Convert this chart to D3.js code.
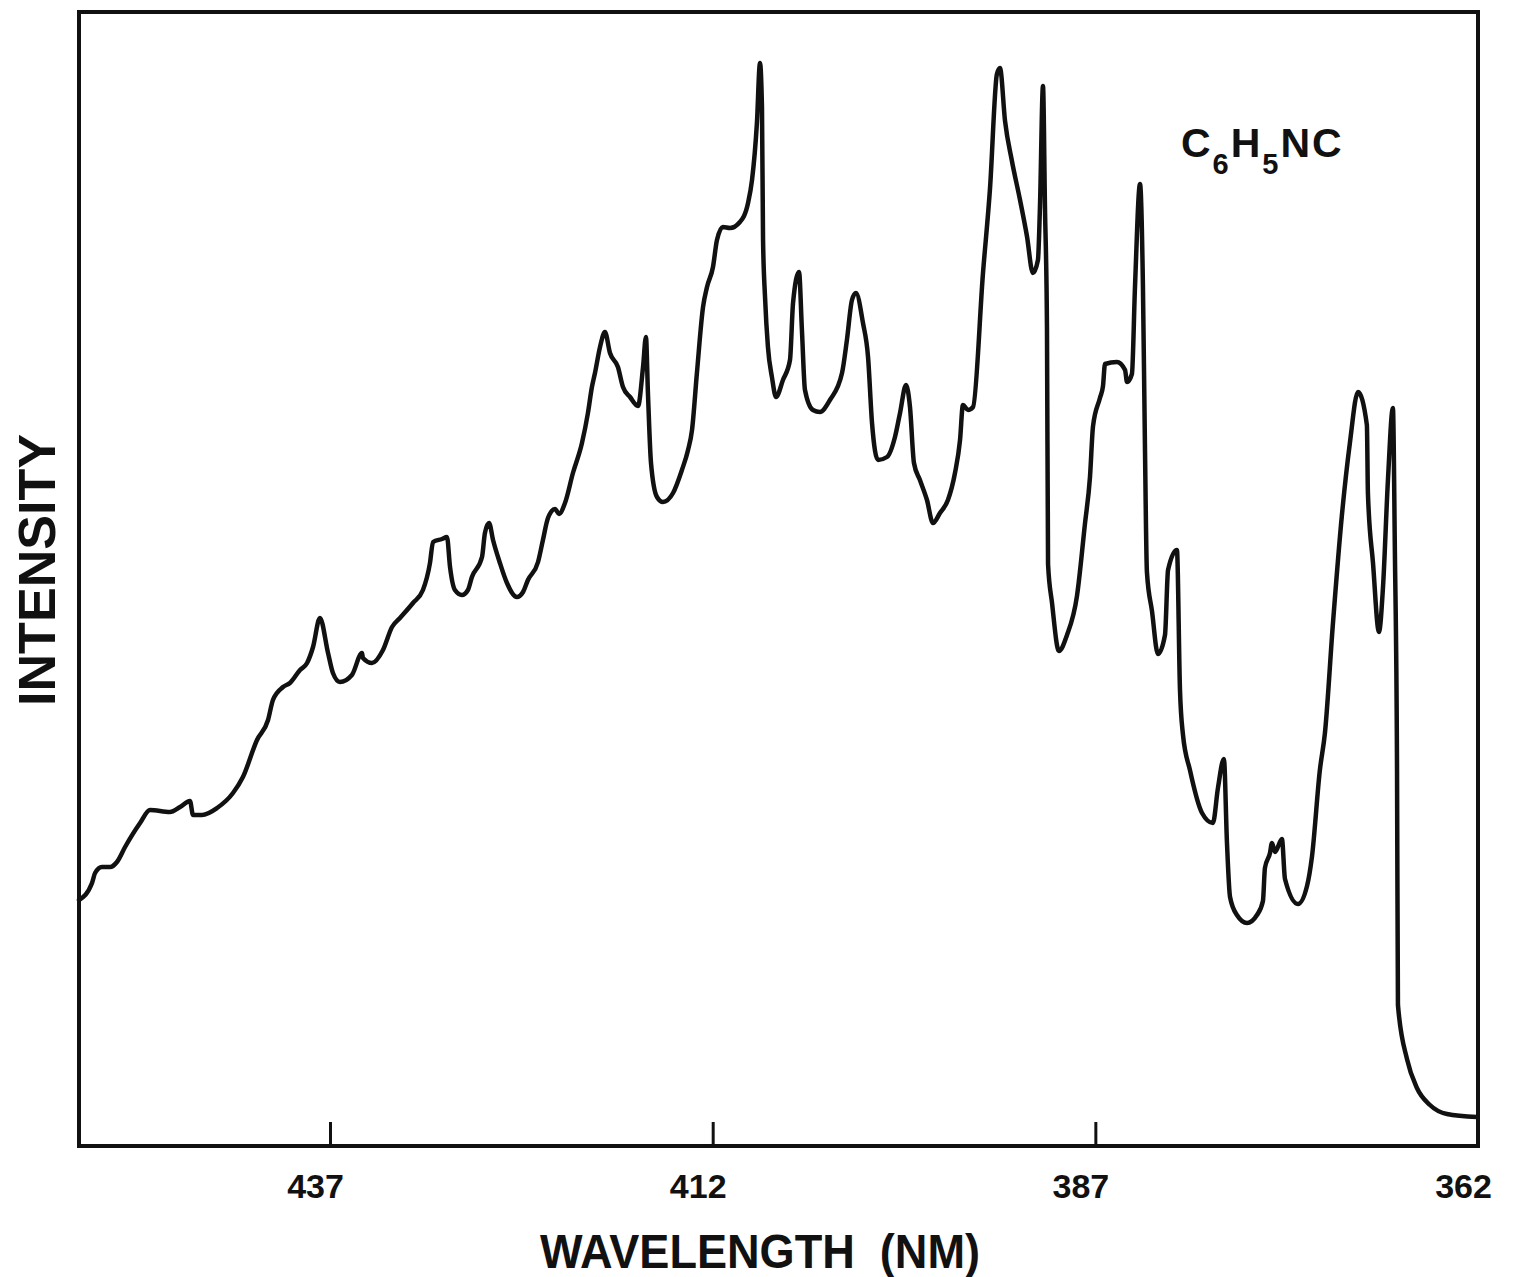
<!DOCTYPE html>
<html>
<head>
<meta charset="utf-8">
<script src="https://cdn.jsdelivr.net/npm/d3@7"></script>
<style>
  body { margin: 0; background: #fff; }
  svg text { font-family: "Liberation Sans", Arial, sans-serif; fill: #111; }
</style>
</head>
<body>
<div id="chart"></div>
<script>
const wavelength = [
    453.40, 452.55, 452.35, 451.90, 451.37, 450.92, 450.39, 449.41, 448.76, 447.46,
    446.80, 446.15, 445.95, 445.36, 444.38, 443.34, 442.69, 441.77, 441.05, 440.73,
    440.07, 439.62, 438.96, 438.50, 438.11, 437.66, 437.13, 436.81, 436.35, 435.57,
    434.91, 434.85, 434.26, 433.54, 432.95, 432.43, 431.58, 430.93, 430.47, 430.27,
    429.69, 429.36, 429.16, 428.84, 428.38, 427.99, 427.73, 427.07, 426.88, 426.61,
    426.35, 425.90, 425.44, 424.79, 424.39, 424.07, 423.41, 423.09, 422.76, 422.30,
    422.04, 421.65, 421.13, 420.54, 420.15, 419.89, 419.69, 419.36, 419.04, 418.71,
    418.19, 417.86, 417.40, 416.88, 416.55, 416.36, 416.23, 416.03, 415.64, 415.25,
    414.59, 414.01, 413.61, 413.35, 413.03, 412.63, 412.37, 411.98, 411.72, 411.33,
    410.87, 410.22, 409.69, 409.43, 409.11, 408.91, 408.78, 408.71, 408.58, 408.39,
    408.13, 407.86, 407.41, 406.95, 406.75, 406.36, 406.17, 405.97, 405.45, 404.99,
    404.34, 403.55, 403.23, 402.90, 402.64, 402.18, 401.85, 401.59, 401.20, 400.61,
    400.09, 399.76, 399.37, 399.11, 398.85, 398.46, 398.00, 397.61, 397.15, 396.63,
    396.17, 395.84, 395.65, 395.32, 394.99, 394.34, 393.88, 393.43, 393.23, 392.90,
    392.45, 391.92, 391.47, 391.08, 390.75, 390.62, 390.42, 390.29, 390.16, 390.09,
    389.83, 389.38, 388.85, 388.20, 387.68, 387.35, 387.15, 386.70, 386.50, 386.37,
    385.59, 385.06, 384.93, 384.61, 384.41, 384.08, 383.89, 383.76, 383.63, 383.30,
    382.91, 382.45, 382.25, 381.67, 381.47, 381.28, 380.82, 380.03, 379.32, 378.99,
    378.60, 378.40, 378.20, 377.75, 377.09, 376.44, 376.05, 375.92, 375.59, 375.46,
    375.26, 374.81, 374.61, 373.76, 373.17, 372.85, 372.33, 372.00, 371.48, 370.89,
    370.37, 369.84, 369.26, 369.19, 368.86, 368.47, 368.21, 367.88, 367.56, 367.43,
    367.29, 367.23, 366.64, 365.99, 365.14, 364.03, 362.07
];

// intensity (arbitrary units)
const intensity = [
    24.6, 26.3, 27.3, 27.9, 27.9, 28.4, 29.9, 32.3, 33.6, 33.4,
    33.9, 34.5, 33.1, 33.1, 33.8, 35.3, 36.9, 40.6, 42.6, 44.6,
    45.9, 46.3, 47.6, 48.3, 49.9, 52.8, 49.3, 47.3, 46.4, 47.1,
    49.3, 48.8, 48.3, 49.6, 51.9, 52.8, 54.3, 55.6, 58.3, 60.4,
    60.7, 60.9, 57.9, 55.6, 55.1, 55.6, 56.9, 58.9, 61.3, 62.3,
    60.6, 58.3, 56.3, 54.9, 55.4, 56.6, 58.4, 60.6, 62.8, 63.7,
    63.2, 64.3, 67.3, 70.3, 73.3, 75.9, 77.3, 79.9, 81.4, 79.3,
    77.9, 75.9, 74.9, 74.0, 77.9, 80.9, 75.3, 68.3, 64.9, 64.4,
    65.3, 67.6, 69.6, 71.6, 77.3, 83.9, 85.9, 87.9, 90.6, 91.9,
    91.8, 92.4, 94.3, 96.6, 102.3, 108.3, 103.9, 90.6, 84.9, 79.9,
    76.9, 74.9, 76.6, 78.6, 84.3, 87.4, 81.6, 75.6, 73.6, 73.4,
    74.6, 77.3, 80.6, 84.6, 85.3, 82.3, 78.9, 72.3, 68.6, 68.9,
    70.9, 73.3, 76.1, 73.9, 68.3, 66.6, 64.6, 62.3, 63.3, 64.6,
    67.3, 70.6, 74.1, 73.6, 73.9, 87.3, 95.8, 107.2, 107.8, 102.5,
    98.5, 94.6, 91.0, 87.3, 88.6, 93.8, 106.0, 93.8, 81.9, 58.2,
    54.3, 49.5, 51.1, 55.0, 62.2, 66.9, 72.0, 74.8, 76.0, 78.2,
    78.4, 77.6, 76.4, 77.2, 85.9, 96.2, 85.9, 70.1, 57.4, 53.5,
    49.2, 51.1, 57.6, 59.6, 45.6, 41.2, 37.6, 33.3, 32.3, 35.8,
    38.7, 30.3, 24.9, 23.1, 22.3, 23.1, 24.5, 27.8, 29.3, 30.3,
    29.4, 30.7, 26.7, 24.2, 26.0, 28.9, 37.6, 41.3, 52.2, 63.1,
    70.3, 75.4, 72.1, 65.2, 58.3, 51.4, 55.8, 66.7, 73.8, 59.4,
    37.6, 14.1, 8.7, 5.8, 4.1, 3.2, 2.9
];

const tickValues = [437, 412, 387, 362];
const xDomain = [453.4, 362];
const yDomain = [0, 113.4];

const width = 1513, height = 1277;
const margin = {top: 12, right: 35, bottom: 131, left: 79};

const svg = d3.select("#chart")
    .append("svg")
    .attr("width", width)
    .attr("height", height);

const xScale = d3.scaleLinear()
    .domain(xDomain)
    .range([margin.left, width - margin.right]);

const yScale = d3.scaleLinear()
    .domain(yDomain)
    .range([height - margin.bottom, margin.top]);

const data = d3.zip(wavelength, intensity).map(([wl, i]) => ({wl, i}));

// frame
svg.append("rect")
    .attr("x", margin.left)
    .attr("y", margin.top)
    .attr("width", width - margin.left - margin.right)
    .attr("height", height - margin.top - margin.bottom)
    .attr("fill", "none")
    .attr("stroke", "#111")
    .attr("stroke-width", 4);

// ticks point inward from the bottom edge
const xAxis = svg.append("g")
    .attr("transform", "translate(0," + (height - margin.bottom) + ")")
    .call(d3.axisBottom(xScale)
        .tickValues(tickValues)
        .tickSizeInner(-24)
        .tickSizeOuter(0)
        .tickPadding(28)
        .tickFormat(d3.format("d")));

xAxis.select(".domain").remove();
xAxis.selectAll(".tick line")
    .attr("stroke", "#111")
    .attr("stroke-width", 3);
xAxis.selectAll(".tick text")
    .attr("dx", -15)
    .attr("font-size", "34px")
    .attr("font-weight", "bold")
    .style("font-family", "'Liberation Sans', Arial, sans-serif")
    .attr("fill", "#111");

// the trace
svg.append("path")
    .datum(data)
    .attr("fill", "none")
    .attr("stroke", "#111")
    .attr("stroke-width", 4.5)
    .attr("stroke-linejoin", "round")
    .attr("stroke-linecap", "round")
    .attr("d", d3.line()
        .curve(d3.curveMonotoneX)
        .x(d => xScale(d.wl))
        .y(d => yScale(d.i)));

// axis titles
svg.append("text")
    .attr("x", 760)
    .attr("y", 1268)
    .attr("text-anchor", "middle")
    .attr("font-size", "48px")
    .attr("font-weight", "bold")
    .attr("textLength", 440)
    .attr("lengthAdjust", "spacingAndGlyphs")
    .style("white-space", "pre")
    .text("WAVELENGTH  (NM)");

svg.append("text")
    .attr("transform", "translate(55,570) rotate(-90)")
    .attr("text-anchor", "middle")
    .attr("font-size", "52px")
    .attr("font-weight", "bold")
    .attr("textLength", 272)
    .attr("lengthAdjust", "spacingAndGlyphs")
    .text("INTENSITY");

// compound label with subscripts
const label = svg.append("text")
    .attr("x", 1181)
    .attr("y", 157)
    .attr("font-size", "41px")
    .attr("font-weight", "bold")
    .attr("letter-spacing", 2);
label.append("tspan").text("C");
label.append("tspan").attr("dy", 17).attr("font-size", "29px").text("6");
label.append("tspan").attr("dy", -17).text("H");
label.append("tspan").attr("dy", 17).attr("font-size", "29px").text("5");
label.append("tspan").attr("dy", -17).text("NC");
</script>
</body>
</html>
